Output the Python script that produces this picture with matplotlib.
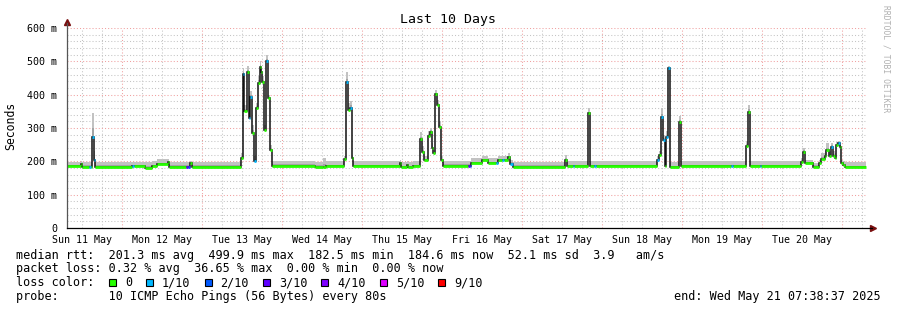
import numpy as np
import matplotlib.pyplot as plt
from matplotlib.patches import Rectangle

# Horas desde el inicio (Sun May 11 07:38:37), mediana (ms), tope del humo (ms), nivel de perdida
t_h = [0.0, 4.2, 4.5, 6.6, 7.2, 7.6, 8.0, 8.4, 19.5, 20.1, 23.4, 25.5, 27.0, 30.2, 30.6,
       35.7, 36.3, 36.9, 37.4, 52.2, 52.8, 53.2, 53.9, 54.5, 55.0, 55.6, 56.2, 56.7, 57.2,
       57.8, 58.2, 58.6, 59.2, 59.7, 60.4, 60.9, 61.4, 74.4, 76.8, 77.7, 83.1, 83.7, 84.4,
       85.0, 85.4, 85.8, 99.9, 100.2, 102.0, 102.3, 103.8, 105.9, 106.6, 107.1, 108.3,
       108.8, 109.4, 109.8, 110.3, 111.0, 111.6, 112.2, 112.7, 120.3, 120.8, 121.2, 124.4,
       126.3, 128.7, 129.2, 130.5, 131.1, 132.3, 132.9, 133.8, 149.4, 150.0, 151.8, 152.1,
       156.3, 156.9, 158.1, 158.7, 177.0, 177.6, 178.1, 178.7, 179.3, 179.7, 180.3, 180.8,
       183.5, 184.1, 199.2, 199.7, 203.7, 204.2, 204.8, 207.8, 208.2, 220.2, 220.8, 221.4,
       223.8, 225.5, 226.2, 227.3, 227.7, 228.5, 229.1, 229.8, 230.3, 230.7, 231.2, 231.8,
       232.1, 232.7, 233.4]
t_fin = 239.7

mediana = [185, 192, 184, 184, 184, 274, 204, 184, 185, 185, 181, 185, 191, 199, 184,
           184, 184, 195, 184, 209, 461, 352, 468, 330, 394, 285, 202, 359, 436,
           484, 467, 439, 294, 500, 389, 234, 186, 184, 182, 185, 206, 437, 354,
           361, 209, 185, 196, 182, 190, 182, 185, 266, 229, 204, 276,
           289, 239, 224, 402, 369, 304, 204, 186, 186, 186, 194, 204,
           194, 194, 204, 204, 204, 212, 192, 184, 204, 185, 185, 185,
           344, 185, 185, 185, 204, 219, 334, 264, 185, 274, 479, 182,
           319, 185, 185, 185, 246, 349, 185, 185, 185, 199, 229, 194,
           184, 194, 206, 216, 234, 216, 244, 216, 209, 249, 254, 244,
           194, 189, 182]

humo = [199, 202, 199, 199, 199, 345, 230, 199, 199, 199, 197, 200, 206, 207, 199,
        199, 199, 200, 199, 225, 480, 370, 485, 350, 410, 310, 215, 375, 455,
        500, 480, 455, 310, 520, 400, 250, 200, 199, 210, 200, 215, 467, 375,
        380, 220, 200, 205, 197, 200, 197, 200, 289, 245, 215, 290,
        300, 255, 235, 414, 385, 320, 215, 200, 200, 200, 209, 215,
        209, 209, 215, 215, 215, 225, 205, 199, 219, 200, 200, 200,
        359, 200, 200, 200, 215, 230, 359, 280, 200, 290, 486, 197,
        336, 200, 200, 200, 260, 369, 200, 200, 200, 210, 240, 205,
        196, 205, 225, 230, 254, 230, 255, 230, 225, 258, 261, 255,
        205, 200, 197]

perdida = [0, 0, 0, 1, 0, 1, 1, 0, 1, 0, 0, 0, 0, 0, 0,
           3, 2, 0, 0, 0, 1, 0, 0, 1, 1, 0, 1, 0, 0,
           0, 0, 0, 0, 1, 0, 0, 0, 0, 0, 0, 0, 1, 0,
           1, 0, 0, 0, 0, 0, 0, 0, 0, 0, 0, 0,
           0, 0, 0, 0, 0, 0, 0, 0, 3, 2, 0, 0,
           0, 1, 0, 1, 0, 0, 1, 0, 0, 0, 1, 0,
           0, 0, 1, 0, 1, 0, 1, 1, 0, 1, 1, 0,
           0, 0, 1, 0, 0, 0, 0, 1, 0, 0, 0, 0,
           0, 0, 0, 0, 0, 0, 1, 0, 0, 0, 1, 0,
           0, 0, 0]

dias = ["Sun 11 May", "Mon 12 May", "Tue 13 May", "Wed 14 May", "Thu 15 May",
        "Fri 16 May", "Sat 17 May", "Sun 18 May", "Mon 19 May", "Tue 20 May"]
y_ticks = [0, 100, 200, 300, 400, 500, 600]
y_labels = ["0", "100 m", "200 m", "300 m", "400 m", "500 m", "600 m"]

leyenda_perdida = ["0", "1/10", "2/10", "3/10", "4/10", "5/10", "9/10"]
colores_perdida = ["#26ff00", "#00b8ff", "#0059ff", "#5e00ff", "#7e00ff", "#dd00ff", "#ff0000"]

linea_rtt = "median rtt:  201.3 ms avg  499.9 ms max  182.5 ms min  184.6 ms now  52.1 ms sd  3.9   am/s"
linea_loss = "packet loss: 0.32 % avg  36.65 % max  0.00 % min  0.00 % now"
linea_probe = "probe:       10 ICMP Echo Pings (56 Bytes) every 80s"
texto_fin = "end: Wed May 21 07:38:37 2025"

mono = "DejaVu Sans Mono"
W, H = 897, 310

fig = plt.figure(figsize=(W / 100, H / 100), dpi=100)
ax = fig.add_axes([67 / W, 1 - 228 / H, 800 / W, 200 / H])
ax.set_xlim(0, 240)
ax.set_ylim(0, 600)

# Rejilla
medio_dia = 4.356
for k in range(40):
    x = medio_dia + 6 * k
    if k % 4 == 2:
        ax.axvline(x, color="#f0a0a0", lw=0.75, ls=(0, (1, 2)), zorder=1)
    else:
        ax.axvline(x, color="#c4c4c4", lw=0.75, ls=(0, (1, 2)), zorder=1)
for y in range(20, 601, 20):
    if y % 100 == 0:
        ax.axhline(y, color="#f0a0a0", lw=0.75, ls=(0, (1, 2)), zorder=1)
    else:
        ax.axhline(y, color="#c4c4c4", lw=0.75, ls=(0, (1, 2)), zorder=1)

# Humo + mediana
bordes = np.array(t_h + [t_fin])
med = np.array(mediana, dtype=float)
hi = np.array(humo, dtype=float)
perd = np.array(perdida)
ax.stairs(hi, bordes, baseline=med, fill=True, color="#c2c2c2", lw=0, zorder=2)
ax.stairs(med + (hi - med) * 0.35, bordes, baseline=med, fill=True, color="#a4a4a4", lw=0, zorder=2)
ax.stairs(med, bordes, baseline=None, color="#111111", lw=1.1, zorder=3)
for i, c in enumerate(colores_perdida):
    m = perd == i
    if m.any():
        ax.hlines(med[m], bordes[:-1][m], bordes[1:][m], color=c, lw=2.0, zorder=4)

# Ejes
for s in ax.spines.values():
    s.set_visible(False)
ax.plot([0, 0], [0, 1.025], transform=ax.transAxes, color="#555555", lw=0.9, clip_on=False, zorder=5)
ax.plot([0, 1.006], [0, 0], transform=ax.transAxes, color="#000000", lw=0.9, clip_on=False, zorder=5)
ax.plot([0], [1.03], marker="^", ms=4, color="#7a1010", transform=ax.transAxes, clip_on=False)
ax.plot([1.008], [0], marker=">", ms=4, color="#7a1010", transform=ax.transAxes, clip_on=False)

ax.set_xticks([medio_dia + 24 * k for k in range(10)])
ax.set_xticklabels(dias, fontfamily=mono, fontsize=7.2)
ax.set_yticks(y_ticks)
ax.set_yticklabels(y_labels, fontfamily=mono, fontsize=7.2)
ax.tick_params(length=0, pad=5)
ax.tick_params(axis="y", pad=7)

fig.text(448 / W, 1 - 19 / H, "Last 10 Days", fontfamily=mono, fontsize=9.5, ha="center", va="center")
fig.text(11 / W, 1 - 126 / H, "Seconds", fontfamily=mono, fontsize=8.3, rotation=90, ha="center", va="center")
fig.text(886 / W, 1 - 5 / H, "RRDTOOL / TOBI OETIKER", fontfamily=mono, fontsize=5.8,
         rotation=270, ha="center", va="top", color="#b0b0b0")

# Leyenda de texto
fs = 8.5
fig.text(16 / W, 1 - 255 / H, linea_rtt, fontfamily=mono, fontsize=fs, va="center")
fig.text(16 / W, 1 - 268.5 / H, linea_loss, fontfamily=mono, fontsize=fs, va="center")
fig.text(16 / W, 1 - 282.5 / H, "loss color:", fontfamily=mono, fontsize=fs, va="center")
fig.text(16 / W, 1 - 296.5 / H, linea_probe, fontfamily=mono, fontsize=fs, va="center")
fig.text(881 / W, 1 - 296.5 / H, texto_fin, fontfamily=mono, fontsize=fs, va="center", ha="right")

x = 109
cw = 7.1
for etiqueta, c in zip(leyenda_perdida, colores_perdida):
    fig.patches.append(Rectangle((x / W, 1 - 286 / H), 7 / W, 7 / H, transform=fig.transFigure,
                                 facecolor=c, edgecolor="black", lw=0.8))
    fig.text((x + 16) / W, 1 - 282.5 / H, etiqueta, fontfamily=mono, fontsize=fs, va="center")
    x = x + 16 + len(etiqueta) * cw + 14

fig.savefig("out.png", dpi=100, facecolor="white")
